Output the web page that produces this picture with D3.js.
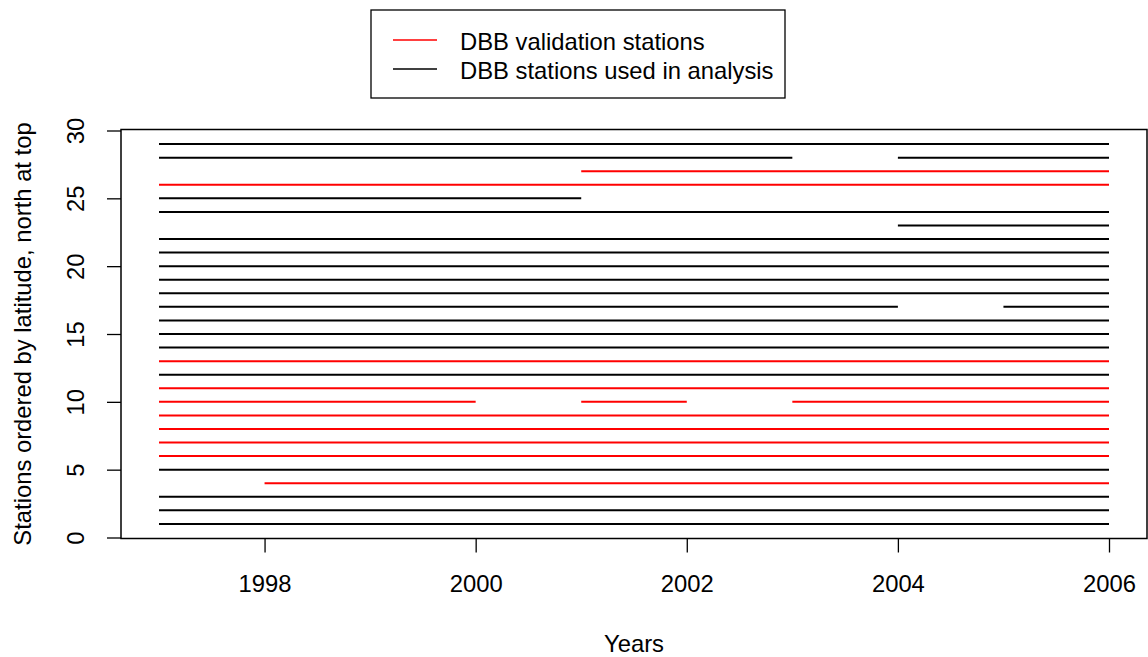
<!DOCTYPE html>
<html>
<head>
<meta charset="utf-8">
<script src="https://cdn.jsdelivr.net/npm/d3@7/dist/d3.min.js"></script>
<style>
  html, body { margin: 0; padding: 0; background: #fff; }
  svg { display: block; font-family: "Liberation Sans", Arial, sans-serif; }
</style>
</head>
<body>
<svg id="chart" width="1148" height="657"></svg>
<script>
// Station record periods: one entry per continuous segment
const segStation = [1, 2, 3, 4, 5, 6, 7, 8, 9, 10, 10, 10, 11, 12, 13, 14, 15, 16, 17, 17,
                    18, 19, 20, 21, 22, 23, 24, 25, 26, 27, 28, 28, 29];
const segStart   = [1997, 1997, 1997, 1998, 1997, 1997, 1997, 1997, 1997, 1997, 2001, 2003, 1997, 1997, 1997, 1997, 1997, 1997, 1997, 2005,
                    1997, 1997, 1997, 1997, 1997, 2004, 1997, 1997, 1997, 2001, 1997, 2004, 1997];
const segEnd     = [2006, 2006, 2006, 2006, 2006, 2006, 2006, 2006, 2006, 2000, 2002, 2006, 2006, 2006, 2006, 2006, 2006, 2006, 2004, 2006,
                    2006, 2006, 2006, 2006, 2006, 2006, 2006, 2001, 2006, 2006, 2003, 2006, 2006];
const validationStations = [4, 6, 7, 8, 9, 10, 11, 13, 26, 27];

const xTicks = [1998, 2000, 2002, 2004, 2006];
const yTicks = [0, 5, 10, 15, 20, 25, 30];
const legendLabels = ["DBB validation stations", "DBB stations used in analysis"];
const legendColors = ["#ff0000", "#000000"];

const FONT = 23.8;
const svg = d3.select("#chart");
const plotL = 121, plotR = 1147, plotT = 129.5, plotB = 538.5;

const x = d3.scaleLinear().domain([1996.64, 2006.36]).range([plotL, plotR]);
const y = d3.scaleLinear().domain([0, 30]).range([537.5, 130.5]);

const segs = segStation.map((s, i) => ({ station: s, start: segStart[i], end: segEnd[i] }));

// station segments
svg.append("g").selectAll("line").data(segs).join("line")
  .attr("x1", d => x(d.start)).attr("x2", d => x(d.end))
  .attr("y1", d => y(d.station)).attr("y2", d => y(d.station))
  .attr("stroke", d => validationStations.includes(d.station) ? legendColors[0] : legendColors[1])
  .attr("stroke-width", 2);

// plot frame
svg.append("rect")
  .attr("x", plotL).attr("y", plotT)
  .attr("width", plotR - plotL).attr("height", plotB - plotT)
  .attr("fill", "none").attr("stroke", "#000").attr("stroke-width", 1.5);

// x axis
const xAxis = d3.axisBottom(x).tickValues(xTicks).tickFormat(d3.format("d")).tickSize(14);
const gx = svg.append("g").attr("transform", `translate(0,${plotB})`).call(xAxis);
gx.select(".domain").remove();
gx.selectAll(".tick line").attr("stroke", "#000").attr("stroke-width", 1.3);
gx.selectAll(".tick text")
  .attr("font-size", FONT).attr("fill", "#000").attr("font-family", "Liberation Sans, Arial, sans-serif")
  .attr("y", 53.5).attr("dy", null);

// y axis with rotated labels
const yAxis = d3.axisLeft(y).tickValues(yTicks).tickSize(14).tickFormat(d3.format("d"));
const gy = svg.append("g").attr("transform", `translate(${plotL},0)`).call(yAxis);
gy.select(".domain").remove();
gy.selectAll(".tick line").attr("stroke", "#000").attr("stroke-width", 1.3);
gy.selectAll(".tick text")
  .attr("font-size", FONT).attr("fill", "#000").attr("font-family", "Liberation Sans, Arial, sans-serif")
  .attr("x", null).attr("dy", null)
  .attr("text-anchor", "middle")
  .attr("transform", "translate(-37,0) rotate(-90)");

// axis titles
svg.append("text")
  .attr("x", (x(1997) + x(2006)) / 2).attr("y", 651.5)
  .attr("text-anchor", "middle").attr("font-size", FONT).text("Years");

svg.append("text")
  .attr("transform", `translate(31,${(y(0) + y(30)) / 2}) rotate(-90)`)
  .attr("text-anchor", "middle").attr("font-size", FONT)
  .text("Stations ordered by latitude, north at top");

// legend
const lg = svg.append("g");
lg.append("rect").attr("x", 371).attr("y", 10).attr("width", 414).attr("height", 88)
  .attr("fill", "#fff").attr("stroke", "#000").attr("stroke-width", 1.3);
legendLabels.forEach((lab, i) => {
  const ly = 40 + i * 29;
  lg.append("line").attr("x1", 393).attr("x2", 437).attr("y1", ly).attr("y2", ly)
    .attr("stroke", legendColors[i]).attr("stroke-width", 1.6);
  lg.append("text").attr("x", 460).attr("y", ly + 9.5)
    .attr("font-size", FONT).text(lab);
});
</script>
</body>
</html>
